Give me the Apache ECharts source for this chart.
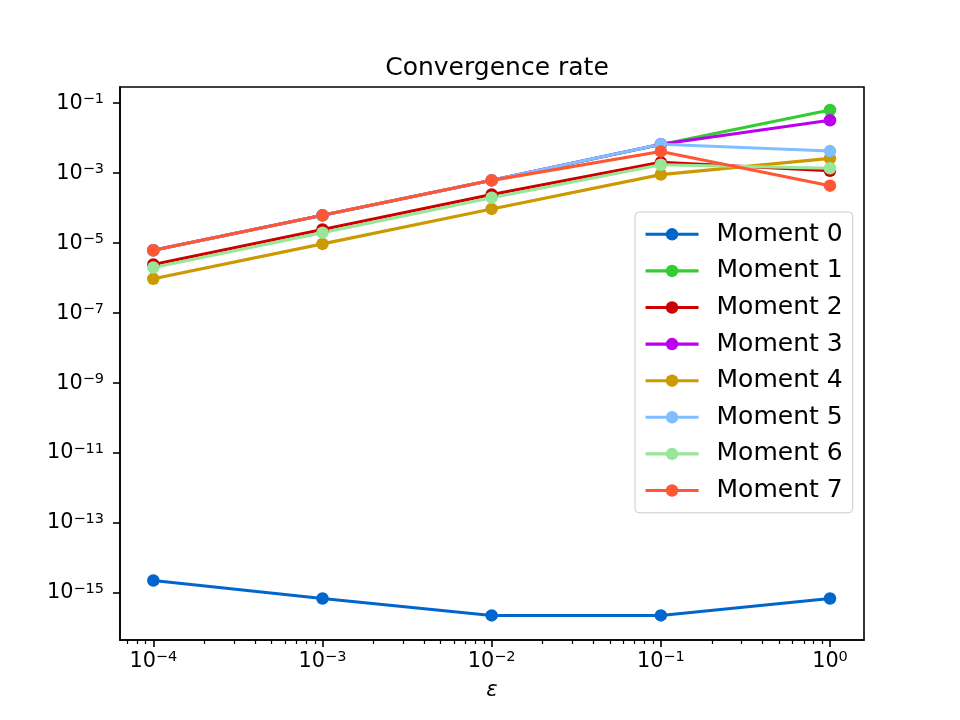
<!DOCTYPE html>
<html>
<head>
<meta charset="utf-8">
<script src="https://cdn.jsdelivr.net/npm/echarts@6/dist/echarts.min.js"></script>
<style>
  html, body { margin: 0; padding: 0; background: #fff; }
  #chart { width: 960px; height: 720px; }
</style>
</head>
<body>
<div id="chart"></div>
<script>
  // x: epsilon, y: error per moment
  var eps = [1e-4, 1e-3, 1e-2, 1e-1, 1];
  var names = ['Moment 0', 'Moment 1', 'Moment 2', 'Moment 3', 'Moment 4', 'Moment 5', 'Moment 6', 'Moment 7'];
  var colors = ['#0066cc', '#33cc33', '#cc0000', '#bb00ee', '#cc9900', '#80bfff', '#99e699', '#ff5733'];
  var moment0 = [2.2e-15, 6.7e-16, 2.2e-16, 2.2e-16, 6.7e-16];
  var moment1 = [6.1e-6, 6.1e-5, 6.1e-4, 6.5e-3, 6.3e-2];
  var moment2 = [2.4e-6, 2.4e-5, 2.4e-4, 2.0e-3, 1.15e-3];
  var moment3 = [6.1e-6, 6.1e-5, 6.1e-4, 6.6e-3, 3.2e-2];
  var moment4 = [9.3e-7, 9.3e-6, 9.3e-5, 8.9e-4, 2.6e-3];
  var moment5 = [6.1e-6, 6.1e-5, 6.1e-4, 6.6e-3, 4.2e-3];
  var moment6 = [1.95e-6, 1.95e-5, 1.95e-4, 1.7e-3, 1.35e-3];
  var moment7 = [6.1e-6, 6.1e-5, 6.1e-4, 4.1e-3, 4.3e-4];
  var moments = [moment0, moment1, moment2, moment3, moment4, moment5, moment6, moment7];

  var xTicks = [1e-4, 1e-3, 1e-2, 1e-1, 1];
  var xExp = [-4, -3, -2, -1, 0];
  var yTicks = [1e-15, 1e-13, 1e-11, 1e-9, 1e-7, 1e-5, 1e-3, 1e-1];
  var yExp = [-15, -13, -11, -9, -7, -5, -3, -1];

  var xMin = Math.pow(10, -4.197), xMax = Math.pow(10, 0.201);
  var yMin = Math.pow(10, -16.36), yMax = Math.pow(10, -0.545);

  // minor ticks 2..9 x 10^k
  var xMinor = [];
  [-5, -4, -3, -2, -1, 0].forEach(function (k) {
    for (var m = 2; m <= 9; m++) {
      var v = m * Math.pow(10, k);
      if (v > xMin && v < xMax) xMinor.push(v);
    }
  });

  var font = 'DejaVu Sans';
  function powLabel(exps, ticks) {
    return function (val) {
      for (var i = 0; i < ticks.length; i++) {
        if (Math.abs(Math.log10(val) - Math.log10(ticks[i])) < 1e-6) {
          var e = exps[i] < 0 ? '\u2212' + (-exps[i]) : '' + exps[i];
          return '{b|10}{s|' + e + '}';
        }
      }
      return '';
    };
  }
  var rich = {
    b: { fontSize: 20.8, fontFamily: font, color: '#000', lineHeight: 22, verticalAlign: 'bottom' },
    s: { fontSize: 14.5, fontFamily: font, color: '#000', lineHeight: 14, verticalAlign: 'top' }
  };

  var series = names.map(function (n, i) {
    return {
      name: n,
      type: 'line',
      data: eps.map(function (x, j) { return [x, moments[i][j]]; }),
      symbol: 'circle',
      symbolSize: 12.5,
      color: colors[i],
      lineStyle: { width: 3.1, color: colors[i] },
      itemStyle: { color: colors[i] },
      emphasis: { disabled: true },
      animation: false
    };
  });

  var myChart = echarts.init(document.getElementById('chart'));
  myChart.setOption({
    backgroundColor: '#fff',
    animation: false,
    title: {
      text: 'Convergence rate',
      left: 492,
      textAlign: 'center',
      top: 51,
      textStyle: { fontFamily: font, fontSize: 25, fontWeight: 'normal', color: '#000' }
    },
    legend: {
      data: names,
      orient: 'vertical',
      left: 635,
      top: 212,
      padding: [4, 10, 4, 9],
      itemWidth: 53,
      itemHeight: 15.6,
      itemGap: 0,
      lineStyle: { width: 3.1 },
      backgroundColor: 'rgba(255,255,255,0.8)',
      borderColor: '#cccccc',
      borderWidth: 1,
      borderRadius: 4,
      textStyle: { fontFamily: font, fontSize: 25, color: '#000', lineHeight: 36.6, padding: [0, 0, 0, 13] }
    },
    grid: {
      left: 120, right: 96, top: 87, bottom: 80,
      show: true, borderColor: '#000', borderWidth: 1.6, backgroundColor: 'transparent'
    },
    xAxis: [{
      type: 'log',
      logBase: 10,
      min: xMin,
      max: xMax,
      name: '\u03b5',
      nameLocation: 'middle',
      nameGap: 40,
      nameTextStyle: { fontFamily: font, fontSize: 21, fontStyle: 'italic', color: '#000' },
      axisLine: { show: true, lineStyle: { color: '#000', width: 1.6 } },
      axisTick: { show: true, length: 7, lineStyle: { color: '#000', width: 1.6 }, customValues: xTicks },
      axisLabel: { margin: 10, formatter: powLabel(xExp, xTicks), rich: rich, customValues: xTicks },
      splitLine: { show: false },
      minorTick: { show: false }
    }, {
      type: 'log',
      logBase: 10,
      min: xMin,
      max: xMax,
      position: 'bottom',
      axisLine: { show: false },
      axisTick: { show: true, length: 4, lineStyle: { color: '#000', width: 1.2 }, customValues: xMinor },
      axisLabel: { show: false },
      splitLine: { show: false }
    }],
    yAxis: {
      type: 'log',
      logBase: 10,
      min: yMin,
      max: yMax,
      axisLine: { show: true, lineStyle: { color: '#000', width: 1.6 } },
      axisTick: { show: true, length: 7, lineStyle: { color: '#000', width: 1.6 }, customValues: yTicks },
      axisLabel: { margin: 16, formatter: powLabel(yExp, yTicks), rich: rich, customValues: yTicks },
      splitLine: { show: false },
      minorTick: { show: false }
    },
    series: series
  });
</script>
</body>
</html>
